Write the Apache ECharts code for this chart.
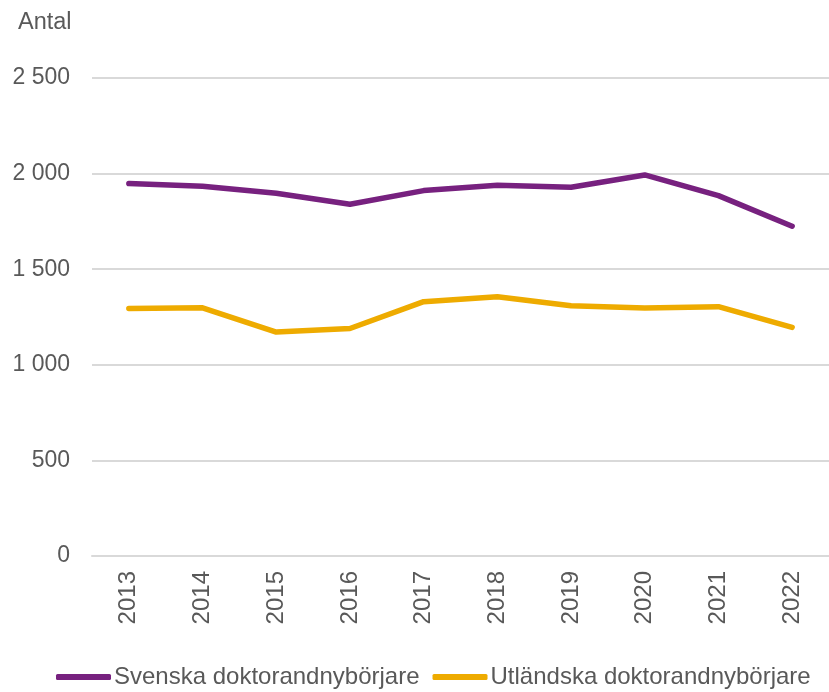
<!DOCTYPE html>
<html><head><meta charset="utf-8">
<script src="https://cdn.jsdelivr.net/npm/echarts@6/dist/echarts.min.js"></script>
<style>html,body{margin:0;padding:0;background:#fff}#c{width:829px;height:692px}</style>
</head><body><div id="c"></div>
<script>
const years = ['2013','2014','2015','2016','2017','2018','2019','2020','2021','2022'];
const svenska = [1948, 1934, 1897, 1840, 1911, 1939, 1929, 1993, 1885, 1725];
const utlandska = [1295, 1298, 1171, 1190, 1330, 1356, 1309, 1297, 1304, 1196];
const yTicks = [0, 500, 1000, 1500, 2000, 2500];
const names = ['Svenska doktorandnybörjare', 'Utländska doktorandnybörjare'];
const colors = ['#77217f', '#eeab00'];
const font = 'Liberation Sans, Arial, sans-serif';
const txt = '#595959';
const fmt = v => String(v).replace(/\B(?=(\d{3})+(?!\d))/g, ' ');
const chart = echarts.init(document.getElementById('c'));
chart.setOption({
  animation: false,
  title: {text: 'Antal', left: 13, top: 6, textStyle: {fontFamily: font, fontSize: 23.5, fontWeight: 'normal', color: txt}},
  grid: {left: 92, right: 0, top: 78, bottom: 136, containLabel: false},
  legend: {
    left: 56, top: 665, padding: 0, itemGap: 13, itemWidth: 55, itemHeight: 6, icon: 'roundRect',
    textStyle: {fontFamily: font, fontSize: 24, color: txt, padding: [0, 0, 0, -2]},
    data: names
  },
  xAxis: {
    type: 'category', data: years, boundaryGap: true,
    axisLine: {show: true, lineStyle: {color: '#d9d9d9', width: 2}},
    axisTick: {show: false},
    axisLabel: {rotate: 90, margin: 15, fontFamily: font, fontSize: 24, color: txt}
  },
  yAxis: {
    type: 'value', min: yTicks[0], max: yTicks[yTicks.length - 1], interval: 500,
    axisLine: {show: false}, axisTick: {show: false},
    splitLine: {lineStyle: {color: '#d9d9d9', width: 2}},
    axisLabel: {margin: 22, fontFamily: font, fontSize: 23, color: txt, formatter: fmt}
  },
  series: [
    {name: names[0], type: 'line', data: svenska, showSymbol: false, symbol: 'none', lineStyle: {width: 5.5, color: colors[0], cap: 'round', join: 'round'}, itemStyle: {color: colors[0]}},
    {name: names[1], type: 'line', data: utlandska, showSymbol: false, symbol: 'none', lineStyle: {width: 5.5, color: colors[1], cap: 'round', join: 'round'}, itemStyle: {color: colors[1]}}
  ]
});
</script></body></html>
